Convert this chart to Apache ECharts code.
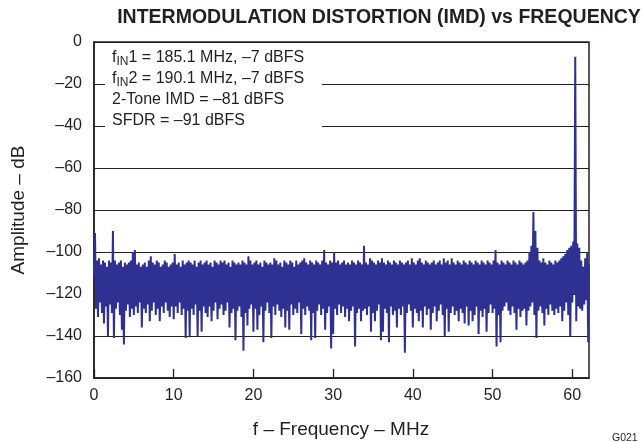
<!DOCTYPE html>
<html><head><meta charset="utf-8">
<script src="https://cdn.jsdelivr.net/npm/echarts/dist/echarts.min.js"></script>
<style>html,body{margin:0;padding:0;background:#fff}#c{width:644px;height:442px}</style>
</head><body><div id="c"></div>
<script>
// Frequency bin spacing (MHz) of the read-off spectrum
const freqStepMHz = 0.25;
// Upper excursion of the trace in each bin (dBFS)
const peakDb = [
  -91, -104, -103, -106, -104, -105, -107, -104,
  -105, -90, -104, -106, -105, -104, -107, -105,
  -106, -105, -104, -100, -99, -106, -105, -107,
  -106, -105, -107, -104, -102, -105, -106, -104,
  -105, -107, -106, -104, -105, -107, -106, -105,
  -101, -106, -105, -107, -104, -106, -105, -104,
  -105, -106, -104, -107, -105, -104, -106, -105,
  -104, -106, -105, -107, -104, -105, -106, -104,
  -105, -104, -106, -105, -107, -104, -105, -106,
  -105, -106, -104, -105, -106, -102, -104, -106,
  -105, -104, -106, -105, -107, -104, -105, -106,
  -105, -106, -103, -104, -106, -105, -107, -104,
  -105, -106, -104, -105, -107, -104, -106, -105,
  -104, -103, -105, -106, -104, -105, -106, -104,
  -105, -106, -104, -99, -105, -106, -104, -105,
  -100, -105, -104, -106, -105, -104, -106, -105,
  -106, -104, -105, -106, -104, -105, -106, -97,
  -105, -106, -103, -104, -105, -106, -104, -105,
  -103, -105, -106, -104, -105, -106, -104, -105,
  -106, -104, -105, -106, -105, -104, -106, -103,
  -105, -106, -104, -103, -105, -106, -104, -105,
  -106, -105, -104, -106, -105, -104, -106, -103,
  -105, -104, -106, -103, -105, -106, -104, -105,
  -106, -104, -105, -106, -104, -105, -106, -104,
  -105, -106, -104, -105, -106, -104, -105, -106,
  -104, -99, -105, -106, -104, -105, -106, -104,
  -105, -106, -104, -105, -106, -104, -105, -106,
  -105, -104, -100, -97, -81, -90, -98, -104,
  -105, -103, -105, -106, -104, -105, -106, -104,
  -105, -104, -103, -102, -101, -99, -98, -97,
  -95, -7, -96, -98, -104, -107, -103, -100, -106
];
// Lower excursion of the trace in each bin (dBFS)
const dipDb = [
  -112, -127, -131, -124, -129, -134, -126, -140,
  -125, -129, -141, -127, -124, -130, -137, -144,
  -128, -125, -131, -127, -130, -126, -129, -124,
  -136, -127, -129, -125, -133, -128, -124, -130,
  -127, -133, -126, -129, -124, -128, -131, -126,
  -132, -126, -129, -124, -130, -127, -141, -128,
  -140, -127, -130, -125, -140, -128, -138, -126,
  -129, -131, -126, -133, -128, -124, -132, -127,
  -125, -130, -128, -124, -136, -129, -127, -142,
  -128, -126, -131, -147, -129, -135, -127, -125,
  -138, -127, -137, -130, -126, -143, -128, -124,
  -129, -141, -126, -130, -125, -128, -131, -127,
  -136, -128, -137, -125, -130, -127, -129, -124,
  -139, -127, -130, -126, -128, -142, -129, -141,
  -128, -125, -130, -127, -137, -129, -126, -146,
  -139, -127, -130, -125, -129, -126, -131, -127,
  -133, -128, -126, -145, -129, -127, -133, -128,
  -127, -130, -126, -138, -129, -133, -128, -125,
  -142, -138, -127, -129, -143, -126, -130, -128,
  -136, -127, -130, -126, -148, -129, -125, -128,
  -136, -127, -129, -133, -128, -136, -126, -130,
  -127, -137, -129, -126, -133, -128, -125, -130,
  -140, -127, -138, -129, -126, -130, -128, -133,
  -127, -129, -134, -126, -135, -128, -133, -130,
  -126, -139, -128, -131, -127, -138, -129, -125,
  -129, -127, -145, -130, -143, -128, -126, -124,
  -128, -130, -126, -129, -137, -127, -131, -128,
  -127, -135, -128, -126, -124, -130, -141, -128,
  -126, -129, -135, -127, -130, -125, -128, -130,
  -127, -129, -126, -133, -128, -124, -130, -140,
  -124, -120, -133, -126, -127, -128, -125, -123, -143
];
const yTicks = [0, -20, -40, -60, -80, -100, -120, -140, -160];
const xTicks = [0, 10, 20, 30, 40, 50, 60];
const xMaxMHz = 62.1;

const traceData = [];
for (let i = 0; i < peakDb.length; i++) {
  traceData.push([i * freqStepMHz, dipDb[i]]);
  traceData.push([i * freqStepMHz + freqStepMHz / 2, peakDb[i]]);
}

const FONT = '"Liberation Sans", Arial, Helvetica, sans-serif';
const INK = '#231f20';
const dash = v => (v < 0 ? '\u2013' + Math.abs(v) : String(v));

const annLines = [
  { sub: true, pre: 'f', idx: 'IN', rest: '1 = 185.1 MHz, \u20137 dBFS', y: 58 },
  { sub: true, pre: 'f', idx: 'IN', rest: '2 = 190.1 MHz, \u20137 dBFS', y: 79 },
  { sub: false, rest: '2-Tone IMD = \u201381 dBFS', y: 100 },
  { sub: false, rest: 'SFDR = \u201391 dBFS', y: 121 }
];
const graphics = [
  { type: 'rect', z: 50, shape: { x: 105, y: 47, width: 217, height: 84 }, style: { fill: '#fff' } }
];
const txt = (text, x, y, font, extra) => Object.assign({ type: 'text', z: 51, style: Object.assign({ text, x, y, font, fill: INK, verticalAlign: 'middle', textVerticalAlign: 'middle' }, extra || {}) });
annLines.forEach(l => {
  if (l.sub) {
    graphics.push(txt(l.pre, 112, l.y, '16px ' + FONT));
    graphics.push(txt(l.idx, 116.5, l.y + 4, '12px ' + FONT));
    graphics.push(txt(l.rest, 128.5, l.y, '16px ' + FONT));
  } else {
    graphics.push(txt(l.rest, 112, l.y, '16px ' + FONT));
  }
});
graphics.push(txt('INTERMODULATION DISTORTION (IMD) vs FREQUENCY', 379, 18, 'bold 19.5px ' + FONT, { align: 'center', textAlign: 'center' }));
graphics.push({ type: 'text', z: 51, rotation: Math.PI / 2, x: 19, y: 210, style: { text: 'Amplitude \u2013 dB', x: 0, y: 0, font: '19px ' + FONT, fill: INK, align: 'center', textAlign: 'center', verticalAlign: 'middle', textVerticalAlign: 'middle' } });
graphics.push(txt('f \u2013 Frequency \u2013 MHz', 341, 430, '19px ' + FONT, { align: 'center', textAlign: 'center' }));
graphics.push(txt('G021', 612, 438, '10.5px ' + FONT));

const chart = echarts.init(document.getElementById('c'), null, { renderer: 'canvas' });
chart.setOption({
  animation: false,
  backgroundColor: '#fff',
  grid: { left: 94, right: 55, top: 42, bottom: 64, show: true, borderColor: INK, borderWidth: 1.5, backgroundColor: 'transparent' },
  xAxis: {
    type: 'value', min: 0, max: xMaxMHz, interval: 10,
    axisLine: { show: true, onZero: false, lineStyle: { color: INK, width: 1.5 } },
    axisTick: { show: true, inside: true, length: 9, lineStyle: { color: INK, width: 1.3 } },
    axisLabel: { color: INK, fontSize: 16, fontFamily: FONT, margin: 10, showMaxLabel: false,
      formatter: v => (xTicks.indexOf(v) >= 0 ? String(v) : '') },
    splitLine: { show: false }
  },
  yAxis: {
    type: 'value', min: -160, max: 0, interval: 20,
    axisLine: { show: true, onZero: false, lineStyle: { color: INK, width: 1.5 } },
    axisTick: { show: false },
    axisLabel: { color: INK, fontSize: 16, fontFamily: FONT, margin: 12,
      formatter: v => (yTicks.indexOf(v) >= 0 ? dash(v) : '') },
    splitLine: { show: true, lineStyle: { color: INK, width: 1 } }
  },
  graphic: graphics,
  series: [{
    type: 'line', data: traceData, showSymbol: false, symbol: 'none',
    sampling: false, clip: true,
    lineStyle: { color: '#2e3192', width: 2 }, z: 5
  }]
});
</script></body></html>
